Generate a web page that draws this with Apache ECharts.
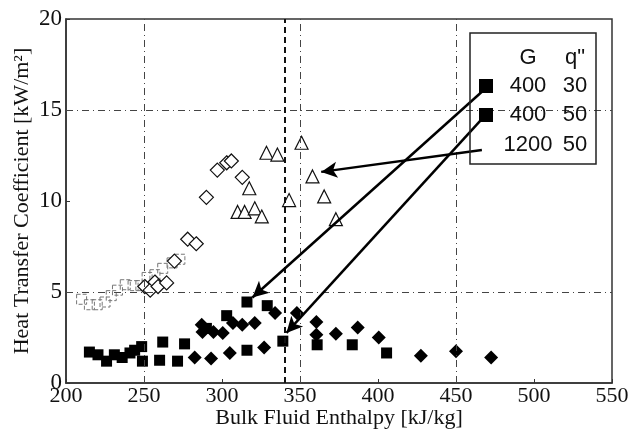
<!DOCTYPE html>
<html>
<head>
<meta charset="utf-8">
<script src="https://cdn.jsdelivr.net/npm/echarts@6/dist/echarts.min.js"></script>
<style>
  html, body { margin: 0; padding: 0; background: #fff; }
  #chart { width: 640px; height: 433px; }
</style>
</head>
<body>
<div id="chart"></div>
<script>
// G=400, q"=30 : filled squares
var sq400_30 = [
  [215, 1.7], [220.5, 1.55], [226, 1.2], [231, 1.55], [236, 1.4], [241, 1.65],
  [244, 1.8], [248.5, 2.0], [249, 1.2], [260, 1.25], [262, 2.25], [271.5, 1.2],
  [276, 2.15], [290, 3.0], [303, 3.7], [316, 4.45], [329, 4.25], [316, 1.8],
  [339, 2.3], [361, 2.1], [383.5, 2.1], [405.5, 1.65]
];
// G=400, q"=50 : filled diamonds
var dm400_50 = [
  [282.5, 1.4], [287, 3.2], [287.5, 2.8], [293, 1.35], [294.5, 2.8], [300.5, 2.75],
  [305, 1.65], [307, 3.3], [313, 3.2], [321, 3.3], [327, 1.95], [334, 3.85],
  [348, 3.85], [360.5, 3.35], [360.5, 2.65], [373, 2.7], [387, 3.05], [400.5, 2.5],
  [427.5, 1.5], [450, 1.75], [472.5, 1.4]
];
// G=1200, q"=50 : open markers (faint squares, diamonds, triangles)
var sq1200 = [
  [210, 4.6], [215, 4.3], [220, 4.3], [225, 4.45], [229, 4.8], [233, 5.1],
  [238, 5.4], [243, 5.35], [248, 5.35], [252, 5.8], [257, 5.95], [262, 6.3],
  [268, 6.6], [273, 6.8]
];
var dm1200 = [
  [250.5, 5.3], [254, 5.1], [257, 5.55], [259, 5.3], [264.5, 5.5], [269.5, 6.7],
  [278, 7.9], [283.5, 7.65], [290, 10.2], [297, 11.7], [303, 12.1], [306, 12.2],
  [313, 11.3]
];
var tr1200 = [
  [310, 9.4], [314.5, 9.4], [317.5, 10.7], [321, 9.6], [325.5, 9.15], [328.5, 12.65],
  [335.5, 12.55], [343, 10.05], [351, 13.2], [358, 11.35], [365.5, 10.25], [373, 9.0]
];
// arrows from legend to the data
var arrows = [
  [[466.6, 16.0], [319.5, 4.7]],
  [[465.5, 14.4], [341.3, 2.75]],
  [[466.6, 12.8], [363.6, 11.6]]
];
var gridX = [250, 350, 450];
var gridY = [5, 15];
var legendRows = [["G", "q\""], ["400", "30"], ["400", "50"], ["1200", "50"]];

var myChart = echarts.init(document.getElementById("chart"));

var serif = "Liberation Serif";
var gridLines = [];
gridX.forEach(function (v) { gridLines.push({ xAxis: v }); });
gridY.forEach(function (v) { gridLines.push({ yAxis: v }); });

var legendGraphic = [
  {
    type: "rect",
    shape: { x: 470, y: 33, width: 126, height: 131 },
    style: { fill: "transparent", stroke: "#222", lineWidth: 1.5 },
    z: 100
  }
];
legendRows.forEach(function (row, i) {
  var y = [58, 86, 115, 145][i];
  legendGraphic.push({
    type: "text", x: 528, y: y, z: 101,
    style: { text: row[0], font: "22px Liberation Sans", fill: "#111", align: "center", verticalAlign: "middle" }
  });
  legendGraphic.push({
    type: "text", x: 575, y: y, z: 101,
    style: { text: row[1], font: "22px Liberation Sans", fill: "#111", align: "center", verticalAlign: "middle" }
  });
});
[86, 115].forEach(function (y) {
  legendGraphic.push({
    type: "rect", shape: { x: 479, y: y - 7, width: 14, height: 14 },
    style: { fill: "#000" }, z: 102
  });
});

var option = {
  backgroundColor: "#fff",
  animation: false,
  grid: {
    left: 66, right: 28, top: 19, bottom: 50,
    outerBoundsMode: "none",
    show: true, borderColor: "#333", borderWidth: 1.5, backgroundColor: "transparent"
  },
  xAxis: {
    type: "value", min: 200, max: 550, interval: 50,
    name: "Bulk Fluid Enthalpy [kJ/kg]",
    nameLocation: "middle", nameGap: 24, nameMoveOverlap: false,
    nameTextStyle: { fontFamily: serif, fontSize: 22, color: "#111", verticalAlign: "top" },
    axisLine: { show: true, onZero: false, lineStyle: { color: "#333", width: 1.5 } },
    axisTick: { show: true, inside: true, length: 4, lineStyle: { color: "#333" } },
    axisLabel: { fontFamily: serif, fontSize: 22, color: "#111", margin: 2 },
    splitLine: { show: false }
  },
  yAxis: {
    type: "value", min: 0, max: 20, interval: 5,
    name: "Heat Transfer Coefficient [kW/m²]",
    nameLocation: "middle", nameGap: 33, nameMoveOverlap: false,
    nameTextStyle: { fontFamily: serif, fontSize: 22, color: "#111" },
    axisLine: { show: true, lineStyle: { color: "#333", width: 1.5 } },
    axisTick: { show: true, inside: true, length: 4, lineStyle: { color: "#333" } },
    axisLabel: { fontFamily: serif, fontSize: 23, color: "#111", margin: 4 },
    splitLine: { show: false }
  },
  graphic: legendGraphic,
  series: [
    {
      name: "1200 50 sq",
      type: "scatter",
      data: sq1200,
      symbol: "rect",
      symbolSize: 10,
      itemStyle: { opacity: 1, color: "transparent", borderColor: "#777", borderWidth: 1, borderType: "dashed" },
      markLine: {
        silent: true,
        symbol: ["none", "none"],
        label: { show: false },
        lineStyle: { color: "#444", width: 1, type: [7, 4, 1, 4] },
        data: gridLines
      }
    },
    {
      name: "1200 50 dm",
      type: "scatter",
      data: dm1200,
      symbol: "diamond",
      symbolSize: 14,
      itemStyle: { opacity: 1, color: "#fff", borderColor: "#111", borderWidth: 1.2 },
      markLine: {
        silent: true,
        symbol: ["none", "none"],
        label: { show: false },
        lineStyle: { color: "#111", width: 2, type: [6, 4] },
        data: [{ xAxis: 340 }]
      }
    },
    {
      name: "1200 50 tr",
      type: "scatter",
      data: tr1200,
      symbol: "triangle",
      symbolSize: 13,
      itemStyle: { opacity: 1, color: "#fff", borderColor: "#111", borderWidth: 1.2 }
    },
    {
      name: "400 50",
      type: "scatter",
      data: dm400_50,
      symbol: "diamond",
      symbolSize: 14,
      itemStyle: { opacity: 1, color: "#000" }
    },
    {
      name: "400 30",
      type: "scatter",
      data: sq400_30,
      symbol: "rect",
      symbolSize: 11,
      itemStyle: { opacity: 1, color: "#000" },
      markLine: {
        silent: true,
        symbol: ["none", "arrow"],
        symbolSize: [12, 16],
        label: { show: false },
        lineStyle: { color: "#000", width: 2.5, type: "solid" },
        data: arrows.map(function (a) {
          return [{ coord: a[0] }, { coord: a[1] }];
        }),
        z: 50
      }
    }
  ]
};
myChart.setOption(option);
</script>
</body>
</html>
